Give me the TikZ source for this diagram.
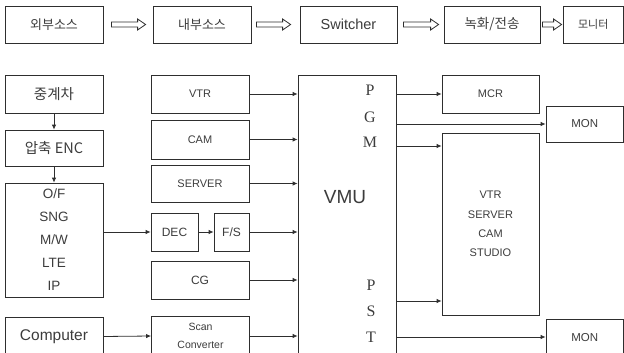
\documentclass[tikz,border=0pt]{standalone}
\usepackage{fontspec}
\setmainfont{Liberation Sans}
\newfontfamily\krfont{Noto Sans CJK KR}
\newfontfamily\serfont{Liberation Serif}
\usetikzlibrary{calc,arrows.meta}
\definecolor{linec}{HTML}{2E2E2E}
\definecolor{txtc}{HTML}{3C3C3C}
\newcommand{\fsz}[2]{\fontsize{#1}{#2}\selectfont}
\tikzset{
  box/.style={draw=linec, line width=0.8pt, inner sep=0pt, text=txtc, align=center},
  arr/.style={draw=linec, line width=0.8pt, -{Latex[length=5pt,width=4.5pt]}},
  hollow/.style={draw=linec, line width=0.8pt, fill=white, line join=miter},
  pgm/.style={inner sep=0pt, text=txtc, font=\serfont\fsz{16}{18}},
}
\newcommand{\harrow}[4]{%
  \draw[hollow] ($(#1.east)+(#3,-2.5)$) -- ($(#2.west)+(-#4-8,-2.5)$) -- ($(#2.west)+(-#4-8,-5.5)$)
    -- ($(#2.west)+(-#4,0)$) -- ($(#2.west)+(-#4-8,5.5)$) -- ($(#2.west)+(-#4-8,2.5)$)
    -- ($(#1.east)+(#3,2.5)$) -- cycle;}
\begin{document}
\begin{tikzpicture}[x=1pt,y=-1pt]
\useasboundingbox (0,0) rectangle (624,353);
\clip (0,0) rectangle (624,353);
% top row
\node[box, minimum width=98, minimum height=37, font=\krfont\fsz{13}{15}] (ext) at (54,24.5) {외부소스};
\node[box, minimum width=98, minimum height=37, font=\krfont\fsz{13}{15}] (int) at (202,24.5) {내부소스};
\node[box, minimum width=97, minimum height=37, font=\fsz{14.5}{16}] (sw) at (348.5,24.5) {Switcher};
\node[box, minimum width=96, minimum height=37, font=\krfont\fsz{13.5}{15}] (rec) at (492,24.5) {녹화/전송};
\node[box, minimum width=60.5, minimum height=37, font=\krfont\fsz{11}{13}] (mon0) at (593.25,24.5) {모니터};
\harrow{ext}{int}{8}{7}
\harrow{int}{sw}{5}{9}
\harrow{sw}{rec}{6}{5}
\harrow{rec}{mon0}{2}{1}
% left column
\node[box, minimum width=98, minimum height=38, font=\krfont\fsz{14.5}{16}] (relay) at (54,94) {중계차};
\node[box, minimum width=98, minimum height=36, font=\krfont\fsz{14.5}{16}] (enc) at (54,148) {압축 ENC};
\node[box, minimum width=98, minimum height=114, font=\fsz{13.5}{23}] (of) at (54,240) {O/F\\SNG\\M/W\\LTE\\IP};
\node[box, minimum width=98, minimum height=38, font=\fsz{15.5}{17}] (comp) at (54,336.5) {Computer};
% middle column
\node[box, minimum width=98, minimum height=38, font=\fsz{11}{13}] (vtr) at (200,94) {VTR};
\node[box, minimum width=98, minimum height=39, font=\fsz{11}{13}] (cam) at (200,139.5) {CAM};
\node[box, minimum width=98, minimum height=37, font=\fsz{11}{13}] (server) at (200,183.5) {SERVER};
\node[box, minimum width=47, minimum height=38, font=\fsz{12}{14}] (dec) at (174.5,232) {DEC};
\node[box, minimum width=35, minimum height=38, font=\fsz{12}{14}] (fs) at (231.5,232) {F/S};
\node[box, minimum width=98, minimum height=38, font=\fsz{12}{14}] (cg) at (200,280) {CG};
\node[box, minimum width=98, minimum height=40, font=\fsz{10.5}{18}] (scan) at (200.5,336) {Scan\\Converter};
% VMU
\node[box, minimum width=98, minimum height=283] (vmu) at (347,216.5) {};
\node[inner sep=0pt, text=txtc, font=\fsz{19}{21}] (vmulbl) at (345,197) {VMU};
\node[pgm] (lp) at (370,90.5) {P};
\node[pgm] (lg) at (370,117) {G};
\node[pgm] (lm) at (370,142) {M};
\node[pgm] (lp2) at (371,285) {P};
\node[pgm] (ls) at (371,311) {S};
\node[pgm] (lt) at (371,337) {T};
% right side
\node[box, minimum width=97, minimum height=38, font=\fsz{11}{13}] (mcr) at (490.5,94) {MCR};
\node[box, minimum width=77.5, minimum height=36, font=\fsz{11.5}{13}] (mon1) at (584.75,124) {MON};
\node[box, minimum width=97, minimum height=182, font=\fsz{11}{19.3}] (big) at (490.5,224) {VTR\\SERVER\\CAM\\STUDIO};
\node[box, minimum width=77.5, minimum height=38, font=\fsz{11.5}{13}] (mon2) at (584.75,338) {MON};
% connectors
\draw[arr] (relay.south) -- (enc.north);
\draw[arr] (enc.south) -- (of.north);
\draw[arr] (of.east |- dec.west) -- (dec.west);
\draw[arr] (dec.east) -- (fs.west);
\draw[arr] (comp.east) -- (scan.west);
\draw[arr] (vtr.east) -- (vtr.east -| vmu.west);
\draw[arr] (cam.east) -- (cam.east -| vmu.west);
\draw[arr] (server.east) -- (server.east -| vmu.west);
\draw[arr] (fs.east) -- (fs.east -| vmu.west);
\draw[arr] (cg.east) -- (cg.east -| vmu.west);
\draw[arr] (scan.east) -- (scan.east -| vmu.west);
\coordinate (pout) at ($(lp)+(0,3.5)$);
\coordinate (gout) at ($(lg)+(0,6)$);
\coordinate (mout) at ($(lm)+(0,4)$);
\coordinate (p2out) at ($(lp2)+(0,16)$);
\draw[arr] (vmu.east |- mcr.west) -- (mcr.west);
\draw[arr] (vmu.east |- mon1.west) -- (mon1.west);
\draw[arr] (vmu.east |- mout) -- (big.west |- mout);
\draw[arr] (vmu.east |- p2out) -- (big.west |- p2out);
\draw[arr] (vmu.east |- lt) -- (mon2.west |- lt);
\end{tikzpicture}
\end{document}
